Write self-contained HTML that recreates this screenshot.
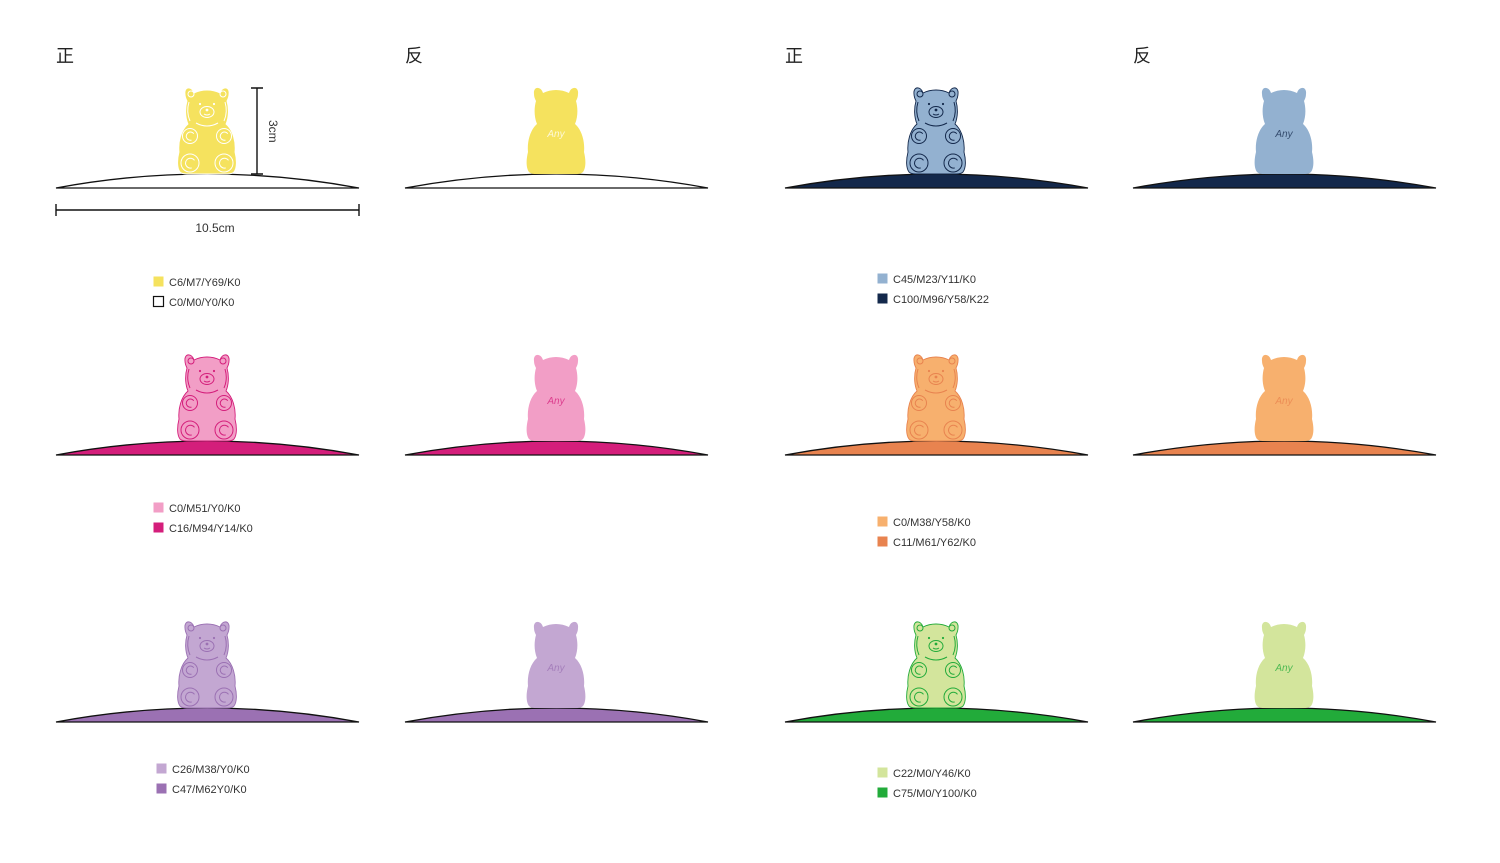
<!DOCTYPE html>
<html><head><meta charset="utf-8">
<style>
html,body{margin:0;padding:0;background:#fff;}
svg{display:block;}
text{font-family:"Liberation Sans","Noto Sans CJK SC",sans-serif;}
</style></head>
<body>
<svg id="s" width="1500" height="863" viewBox="0 0 1500 863" xmlns="http://www.w3.org/2000/svg"></svg>
<script>
const bodyColors = ['#f5e25e','#f29ec6','#c3a7d2','#93b1d0','#f7b06e','#d3e59c'];
const baseColors = ['#ffffff','#d41e7b','#9b71b3','#13284b','#e8834f','#22ab3a'];
const lineColors = ['#ffffff','#d41e7b','#9b71b3','#13284b','#e8834f','#22ab3a'];
const label1 = ['C6/M7/Y69/K0','C0/M51/Y0/K0','C26/M38/Y0/K0','C45/M23/Y11/K0','C0/M38/Y58/K0','C22/M0/Y46/K0'];
const label2 = ['C0/M0/Y0/K0','C16/M94/Y14/K0','C47/M62Y0/K0','C100/M96/Y58/K22','C11/M61/Y62/K0','C75/M0/Y100/K0'];
const headers = ['正','反','正','反'];

const NS='http://www.w3.org/2000/svg';
const svg=document.getElementById('s');
function el(tag,attrs,parent){const e=document.createElementNS(NS,tag);for(const k in attrs)e.setAttribute(k,attrs[k]);(parent||svg).appendChild(e);return e;}

const colX=[56,405,785,1133];
const rowBase=[188,455,722];
const legendPos=[[153,276],[153,502],[156,763],[877,273],[877,516],[877,767]];

const bearPath='M -13,-81 C -15,-88 -23,-88 -22,-80 C -22,-77 -21,-75 -20,-73 C -22,-66 -22,-57 -19,-50 C -26,-44 -29,-32 -28,-22 C -30,-14 -30,-6 -27,-2 C -25,0 -22,0 -20,0 L 20,0 C 22,0 25,0 27,-2 C 30,-6 30,-14 28,-22 C 29,-32 26,-44 19,-50 C 22,-57 22,-66 20,-73 C 21,-75 22,-77 22,-80 C 23,-88 15,-88 13,-81 C 5,-85 -5,-85 -13,-81 Z';

[0,1,2,3].forEach(c=>{
  const t=el('text',{x:colX[c],y:62,'font-size':18,fill:'#222'});
  
  
  t.textContent=headers[c];
});

for(let v=0;v<6;v++){
  const r=v%3, pair=Math.floor(v/3);
  for(let side=0;side<2;side++){
    const x0=colX[pair*2+side], base=rowBase[r], cx=x0+151;
    const g=el('g',{});
    
    
    const arc=el('path',{d:`M ${x0},${base} Q ${cx},${base-28} ${x0+303},${base} Z`,fill:baseColors[v],stroke:'#111','stroke-width':1.3},g);
    
    
    const b=el('g',{transform:`translate(${cx},${base-14})`},g);
    const lc=lineColors[v];
    el('path',{d:bearPath,fill:bodyColors[v],stroke:side?'none':lc,'stroke-width':0.9},b);
    if(!side){
      const d={fill:'none',stroke:lc,'stroke-width':1};
      el('circle',Object.assign({cx:-16,cy:-80,r:3},d),b);
      el('circle',Object.assign({cx:16,cy:-80,r:3},d),b);
      el('circle',{cx:-7,cy:-70,r:1.1,fill:lc},b);
      el('circle',{cx:7,cy:-70,r:1.1,fill:lc},b);
      el('ellipse',Object.assign({cx:0,cy:-62,rx:7,ry:5.5},d),b);
      el('circle',{cx:0,cy:-64,r:1.4,fill:lc},b);
      el('path',Object.assign({d:'M -3,-60 Q 0,-58 3,-60'},d),b);
      el('path',Object.assign({d:'M -11,-51 Q 0,-45 11,-51'},d),b);
      el('path',Object.assign({d:'M -18,-72 Q -21,-62 -17,-53 M 18,-72 Q 21,-62 17,-53'},d),b);
      [[-17,-38,7.5],[17,-38,7.5],[-17,-11,9],[17,-11,9]].forEach(p=>{
        el('circle',Object.assign({cx:p[0],cy:p[1],r:p[2]},d),b);
        el('path',Object.assign({d:`M ${p[0]+p[2]*0.5},${p[1]-p[2]*0.3} A ${p[2]*0.55} ${p[2]*0.55} 0 1 0 ${p[0]+p[2]*0.2},${p[1]+p[2]*0.55}`},d),b);
      });
    } else {
      const t=el('text',{x:0,y:-37,'text-anchor':'middle','font-size':10,'font-style':'italic',fill:lc,'fill-opacity':0.75,'font-family':'"Liberation Serif",serif'},b);
      
      
      t.textContent='Any';
    }
  }
  const lp=legendPos[v];
  [[bodyColors[v],label1[v],0],[baseColors[v],label2[v],1]].forEach(item=>{
    const y=lp[1]+item[2]*20;
    const sw=el('rect',{x:lp[0]+0.5,y:y+0.5,width:10,height:10,fill:item[0],stroke:item[0]==='#ffffff'?'#111':'none','stroke-width':1.2});
    
    
    const t=el('text',{x:lp[0]+16,y:y+10,'font-size':11,fill:'#333'});
    
    
    t.textContent=item[1];
  });
}

const dim=el('g',{stroke:'#111','stroke-width':1.4,fill:'none'});


el('path',{d:'M 257,88 L 257,174 M 251,88 L 263,88 M 251,174 L 263,174'},dim);
el('path',{d:'M 56,210 L 359,210 M 56,204 L 56,216 M 359,204 L 359,216'},dim);
const t1=el('text',{x:0,y:0,'font-size':12,fill:'#333',transform:'translate(269,120) rotate(90)'});


t1.textContent='3cm';
const t2=el('text',{x:215,y:232,'font-size':12,fill:'#333','text-anchor':'middle'});


t2.textContent='10.5cm';
</script>
</body></html>
